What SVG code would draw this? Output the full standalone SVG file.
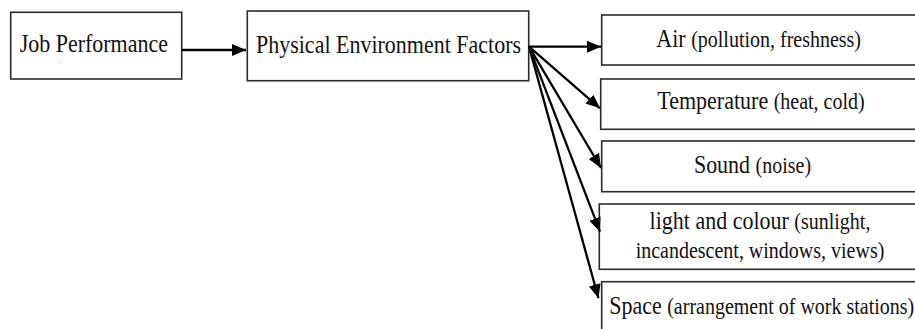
<svg xmlns="http://www.w3.org/2000/svg" width="915" height="329" viewBox="0 0 915 329">
  <style>
    .box { fill: #ffffff; stroke: #2b2b2b; stroke-width: 1.6; }
    .t { font-family: "Liberation Serif", "Times New Roman", serif; font-size: 22px; fill: #111111; text-anchor: middle; }
    .s { font-size: 20px; }
    .conn { stroke: #000000; stroke-width: 2.3; fill: none; marker-end: url(#arrow); }
  </style>
  <defs>
    <marker id="arrow" markerUnits="userSpaceOnUse" markerWidth="14" markerHeight="12" viewBox="0 0 14 12" refX="14" refY="6" orient="auto">
      <path d="M0,0 L14,6 L0,12 z" fill="#000000"/>
    </marker>
  </defs>
  <rect width="915" height="329" fill="#ffffff"/>

  <g id="job-performance">
    <rect class="box" x="10.7" y="12.3" width="171" height="66.7"/>
    <text class="t" font-family="Liberation Serif, serif" transform="translate(93.8,51.7) scale(1,1.12)">Job Performance</text>
  </g>

  <g id="physical-environment-factors">
    <rect class="box" x="247.3" y="11" width="281.4" height="69.7"/>
    <text class="t" font-family="Liberation Serif, serif" transform="translate(388.5,53.3) scale(1,1.12)">Physical Environment Factors</text>
  </g>

  <g id="air">
    <rect class="box" x="601.7" y="15" width="316" height="50"/>
    <text class="t" font-family="Liberation Serif, serif" transform="translate(758.7,46.7) scale(1,1.12)">Air <tspan class="s">(pollution, freshness)</tspan></text>
  </g>

  <g id="temperature">
    <rect class="box" x="600.7" y="79" width="317" height="50.3"/>
    <text class="t" font-family="Liberation Serif, serif" transform="translate(761,109) scale(1,1.12)">Temperature <tspan class="s">(heat, cold)</tspan></text>
  </g>

  <g id="sound">
    <rect class="box" x="601.7" y="141" width="316" height="50.7"/>
    <text class="t" font-family="Liberation Serif, serif" transform="translate(752.5,172.7) scale(1,1.12)">Sound <tspan class="s">(noise)</tspan></text>
  </g>

  <g id="light-and-colour">
    <rect class="box" x="599.3" y="204" width="318" height="65.3"/>
    <text class="t" font-family="Liberation Serif, serif" transform="translate(760,229.3) scale(1,1.12)">light and colour <tspan class="s">(sunlight,</tspan></text>
    <text class="t s" font-family="Liberation Serif, serif" transform="translate(760,257.7) scale(1,1.12)">incandescent, windows, views)</text>
  </g>

  <g id="space">
    <rect class="box" x="601.7" y="281.7" width="316" height="60"/>
    <text class="t" font-family="Liberation Serif, serif" transform="translate(761.7,314.3) scale(1,1.12)">Space <tspan class="s">(arrangement of work stations)</tspan></text>
  </g>

  <g id="connectors">
    <line class="conn" x1="182" y1="50" x2="246" y2="50"/>
    <line class="conn" x1="529" y1="46.7" x2="601" y2="46.7"/>
    <line class="conn" x1="529" y1="46.7" x2="600" y2="108.3"/>
    <line class="conn" x1="529" y1="46.7" x2="601" y2="168"/>
    <line class="conn" x1="529" y1="46.7" x2="600" y2="231.7"/>
    <line class="conn" x1="529" y1="46.7" x2="598.5" y2="298.3"/>
  </g>
</svg>
